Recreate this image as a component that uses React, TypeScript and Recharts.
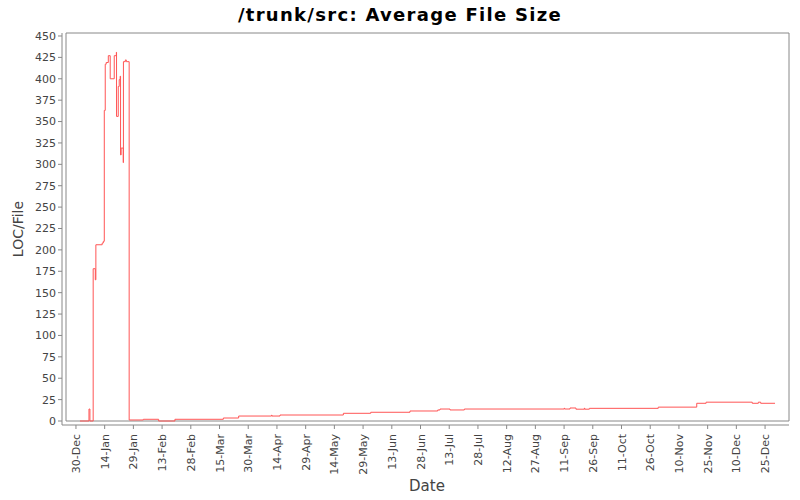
import { LineChart, Line, XAxis, YAxis, ReferenceArea } from "recharts";

// day offsets counted from 30-Dec (day 0)
const DAYS = [
  2.1, 6.8, 7.3, 9.0, 10.1, 10.4, 13.7, 14.3, 14.8, 15.3, 15.8, 16.9, 17.9, 20.0,
  21.1, 21.2, 22.1, 22.6, 23.1, 23.3, 23.6, 24.7, 24.8, 25.8, 26.3, 27.8, 35.2,
  43.2, 51.7, 77.0, 85.0, 102.2, 102.4, 106.6, 139.7, 154.0, 174.5, 189.0, 190.2,
  195.4, 202.9, 255.1, 255.3, 258.1, 261.2, 265.6, 265.8, 268.2, 304.2, 324.3,
  329.2, 353.3, 356.5, 357.7, 365.2,
];

// average LOC per file
const LOC_PER_FILE = [
  0, 14, 0, 178, 165, 206, 208, 210, 363, 417, 419, 427, 400, 427,
  431, 356, 391, 399, 403, 311, 319, 302, 420, 422, 420, 1.2, 2,
  0, 2, 3.5, 5.8, 6.8, 5.8, 7, 9, 10.2, 11.7, 12.9, 14,
  12.9, 14, 15, 14, 15.2, 13.8, 15, 13.8, 14.8, 16.2, 20.7,
  22, 20.7, 22, 20.7, 20.7,
];

const X_TICKS = [0, 15, 30, 45, 60, 75, 90, 105, 120, 135, 150, 165, 180, 195, 210, 225, 240, 255, 270, 285, 300, 315, 330, 345, 360];
const X_LABELS = [
  "30-Dec", "14-Jan", "29-Jan", "13-Feb", "28-Feb", "15-Mar", "30-Mar", "14-Apr",
  "29-Apr", "14-May", "29-May", "13-Jun", "28-Jun", "13-Jul", "28-Jul", "12-Aug",
  "27-Aug", "11-Sep", "26-Sep", "11-Oct", "26-Oct", "10-Nov", "25-Nov", "10-Dec", "25-Dec",
];
const Y_TICKS = [0, 25, 50, 75, 100, 125, 150, 175, 200, 225, 250, 275, 300, 325, 350, 375, 400, 425, 450];

const X_MIN = -5.2;
const X_MAX = 372.5;
const Y_MAX = 453.5;

const FONT = "'DejaVu Sans', sans-serif";

const data = DAYS.map((d, i) => ({ day: d, loc: LOC_PER_FILE[i] }));

const DateTick = (props: any) => {
  const { x, y, payload } = props;
  const idx = X_TICKS.indexOf(payload.value);
  return (
    <g transform={`translate(${x},${y})`}>
      <text
        transform="rotate(-90)"
        x={-3}
        y={4}
        textAnchor="end"
        fontSize={11}
        fontFamily={FONT}
        fill="#444"
      >
        {X_LABELS[idx]}
      </text>
    </g>
  );
};

export default function App() {
  return (
    <div style={{ position: "absolute", left: 0, top: 0, width: 800, height: 500, background: "#fff" }}>
      <LineChart
        width={800}
        height={500}
        data={data}
        margin={{ top: 33, right: 11, bottom: 0, left: 0 }}
      >
        <ReferenceArea
          x1={X_MIN}
          x2={X_MAX}
          y1={0}
          y2={Y_MAX}
          fill="#fff"
          fillOpacity={1}
          stroke="#888"
          strokeWidth={1}
        />
        <XAxis
          dataKey="day"
          type="number"
          domain={[X_MIN, X_MAX]}
          ticks={X_TICKS}
          interval={0}
          padding={{ left: 4, right: 0 }}
          height={75}
          tickSize={4}
          axisLine={{ stroke: "#888" }}
          tickLine={{ stroke: "#888" }}
          tick={<DateTick />}
        />
        <YAxis
          type="number"
          domain={[0, Y_MAX]}
          ticks={Y_TICKS}
          interval={0}
          padding={{ top: 0, bottom: 4 }}
          width={62}
          tickSize={4}
          axisLine={{ stroke: "#888" }}
          tickLine={{ stroke: "#888" }}
          tick={{ fontSize: 11, fill: "#444", fontFamily: FONT }}
        />
        <Line
          dataKey="loc"
          type="stepAfter"
          stroke="#ff5555"
          strokeWidth={1}
          dot={false}
          isAnimationActive={false}
        />
      </LineChart>
      <svg
        width={800}
        height={500}
        style={{ position: "absolute", left: 0, top: 0, pointerEvents: "none" }}
      >
        <text
          x={400}
          y={21}
          textAnchor="middle"
          fontSize={18}
          fontWeight="bold"
          fontFamily={FONT}
          letterSpacing={1.3}
          fill="#000"
        >
          /trunk/src: Average File Size
        </text>
        <text
          transform="translate(23,229) rotate(-90)"
          textAnchor="middle"
          fontSize={14}
          fontFamily={FONT}
          fill="#444"
        >
          LOC/File
        </text>
        <text x={427} y={491} textAnchor="middle" fontSize={15} fontFamily={FONT} fill="#444">
          Date
        </text>
      </svg>
    </div>
  );
}
